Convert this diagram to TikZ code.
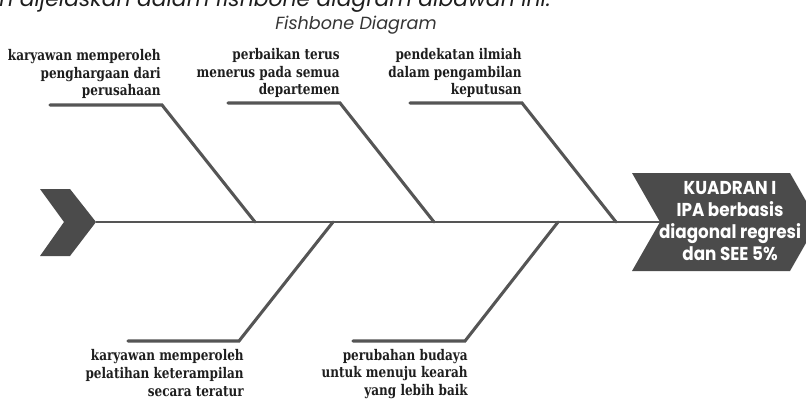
\documentclass[tikz,border=0pt]{standalone}
\usepackage{fontspec}
\newfontfamily\poppins{Poppins}
\newfontfamily\labelfont{DejaVu Serif}[FakeStretch=0.82]
\newfontfamily\boxfont{Poppins}[FakeStretch=0.9]
\definecolor{bonegray}{HTML}{555555}
\definecolor{shapegray}{HTML}{4B4B4B}
\definecolor{labeltext}{HTML}{1E1E1E}
\begin{document}
\begin{tikzpicture}[x=0.75pt,y=-0.75pt,
  bone/.style={draw=bonegray,line width=2.3pt,line join=miter,line cap=round},
  spine/.style={draw=bonegray,line width=1.8pt},
  lbl/.style={font=\labelfont\bfseries\fontsize{11}{13.2}\selectfont,align=right,anchor=east,inner sep=0pt,text=labeltext},
  boxtxt/.style={font=\boxfont\bfseries\fontsize{14}{16.6}\selectfont,align=center,inner sep=0pt,text=white}]
\useasboundingbox (0,0) rectangle (806,401);
\clip (0,0) rectangle (806,401);
% header texts
\node[anchor=base west,inner sep=0pt,font=\poppins\itshape\fontsize{16.4}{18}\selectfont,text=labeltext] (intro) at (-1,6) {n dijelaskan dalam fishbone diagram dibawah ini.};
\node[anchor=base,inner sep=0pt,font=\poppins\itshape\fontsize{13.2}{15}\selectfont,text=labeltext!90] (title) at (356,29) {Fishbone Diagram};
% tail chevron
\coordinate (tailtl) at (40,189);
\coordinate (tailtr) at (70,189);
\coordinate (tailtip) at (96,222);
\coordinate (tailbr) at (70,256);
\coordinate (tailbl) at (40,256);
\coordinate (tailnotch) at (64,222);
\fill[shapegray] (tailtl) -- (tailtr) -- (tailtip) -- (tailbr) -- (tailbl) -- (tailnotch) -- cycle;
% head
\coordinate (headtl) at (632,173);
\coordinate (headtr) at (790,173);
\coordinate (headtip) at (818,222);
\coordinate (headbr) at (790,271);
\coordinate (headbl) at (632,271);
\coordinate (headnotch) at (660,222);
\fill[shapegray] (headtl) -- (headtr) -- (headtip) -- (headbr) -- (headbl) -- (headnotch) -- cycle;
\node[boxtxt] (headtxt) at (730,221) {KUADRAN I\\IPA berbasis\\diagonal regresi\\dan SEE 5\%};
% spine
\draw[spine] (tailtip) -- (headnotch);
% top bones
\coordinate (t1a) at (50,105);  \coordinate (t1b) at (162,105); \coordinate (t1c) at (255,222);
\coordinate (t2a) at (228,103); \coordinate (t2b) at (340,103); \coordinate (t2c) at (434,222);
\coordinate (t3a) at (410,103); \coordinate (t3b) at (522,103); \coordinate (t3c) at (616,222);
\draw[bone] (t1a) -- (t1b) -- (t1c);
\draw[bone] (t2a) -- (t2b) -- (t2c);
\draw[bone] (t3a) -- (t3b) -- (t3c);
% bottom bones
\coordinate (b1a) at (128,341); \coordinate (b1b) at (239,341); \coordinate (b1c) at (333,222);
\coordinate (b2a) at (353,341); \coordinate (b2b) at (465,341); \coordinate (b2c) at (558,222);
\draw[bone] (b1a) -- (b1b) -- (b1c);
\draw[bone] (b2a) -- (b2b) -- (b2c);
% labels
\node[lbl] (l1) at (161,74) {karyawan memperoleh\\penghargaan dari\\perusahaan};
\node[lbl] (l2) at (340,73) {perbaikan terus\\menerus pada semua\\departemen};
\node[lbl] (l3) at (522,73) {pendekatan ilmiah\\dalam pengambilan\\keputusan};
\node[lbl] (l4) at (244,373) {karyawan memperoleh\\pelatihan keterampilan\\secara teratur};
\node[lbl] (l5) at (468,374) {perubahan budaya\\untuk menuju kearah\\yang lebih baik};
\end{tikzpicture}
\end{document}
